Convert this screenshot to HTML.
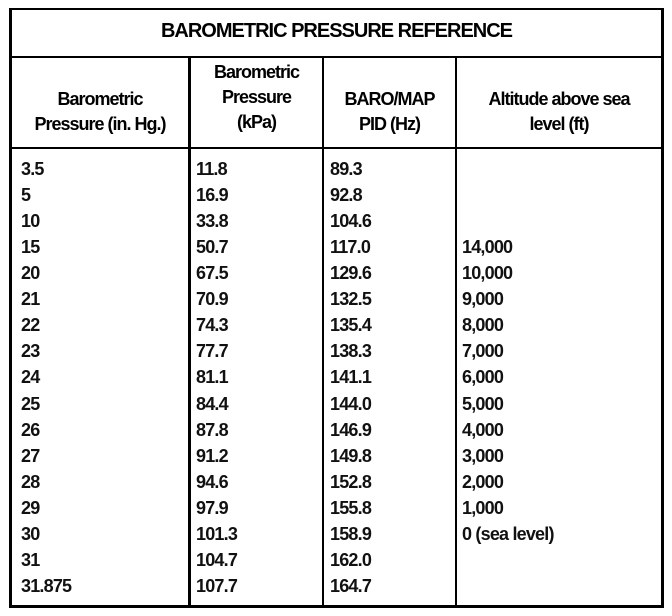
<!DOCTYPE html>
<html><head><style>
body{margin:0;width:672px;height:616px;background:#fff;position:relative;font-family:"Liberation Sans",sans-serif;color:#000;overflow:hidden}
.l{position:absolute;background:#000}
.t{position:absolute;font-size:18px;font-weight:bold;letter-spacing:-0.8px;white-space:nowrap;line-height:18px;color:#111}
.h{position:absolute;font-size:18px;font-weight:bold;letter-spacing:-1px;text-align:center;line-height:25px}
</style></head><body>
<div class="l" style="left:9px;top:8px;width:3px;height:600px"></div>
<div class="l" style="left:661px;top:8px;width:3px;height:600px"></div>
<div class="l" style="left:9px;top:8px;width:655px;height:2px"></div>
<div class="l" style="left:9px;top:56px;width:655px;height:2px"></div>
<div class="l" style="left:9px;top:147px;width:655px;height:2px"></div>
<div class="l" style="left:9px;top:605px;width:655px;height:3px"></div>
<div class="l" style="left:188px;top:56px;width:3px;height:552px"></div>
<div class="l" style="left:322px;top:56px;width:2px;height:552px"></div>
<div class="l" style="left:455px;top:56px;width:2px;height:552px"></div>
<div class="h" style="left:12px;width:649px;top:19px;font-size:20px">BAROMETRIC PRESSURE REFERENCE</div>
<div class="h" style="left:12px;width:176px;top:87px">Barometric<br>Pressure (in. Hg.)</div>
<div class="h" style="left:191px;width:131px;top:60px">Barometric<br>Pressure<br>(kPa)</div>
<div class="h" style="left:324px;width:131px;top:87px">BARO/MAP<br>PID (Hz)</div>
<div class="h" style="left:457px;width:204px;top:87px">Altitude above sea<br>level (ft)</div>
<div id="r"></div>
<script>
var d=[["3.5","11.8","89.3",""],["5","16.9","92.8",""],["10","33.8","104.6",""],["15","50.7","117.0","14,000"],["20","67.5","129.6","10,000"],["21","70.9","132.5","9,000"],["22","74.3","135.4","8,000"],["23","77.7","138.3","7,000"],["24","81.1","141.1","6,000"],["25","84.4","144.0","5,000"],["26","87.8","146.9","4,000"],["27","91.2","149.8","3,000"],["28","94.6","152.8","2,000"],["29","97.9","155.8","1,000"],["30","101.3","158.9","0 (sea level)"],["31","104.7","162.0",""],["31.875","107.7","164.7",""]];
var xs=[21,196,330,462],h="";
d.forEach(function(r,i){r.forEach(function(c,j){h+='<div class="t" style="left:'+xs[j]+'px;top:'+(160+i*26.06)+'px">'+c+'</div>';});});
document.getElementById("r").innerHTML=h;
</script>
</body></html>
